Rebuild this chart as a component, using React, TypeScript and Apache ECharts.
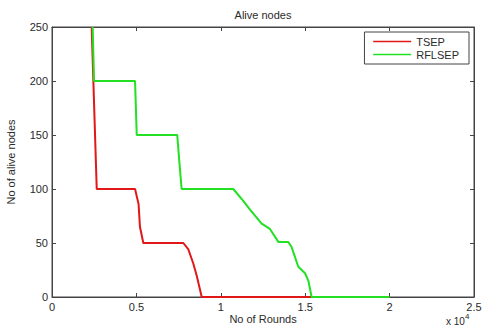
import React, { useEffect, useRef } from "react";
import * as echarts from "echarts";

const xTickLabels = ["0", "0.5", "1", "1.5", "2", "2.5"];
const yTickValues = [0, 50, 100, 150, 200, 250];

const tsepRounds = [2350, 2450, 2650, 4920, 5130, 5210, 5410, 7780, 8080, 8370, 8570, 8870, 20000];
const tsepAlive = [250, 200, 100, 100, 86, 65, 50, 50, 44, 31, 20, 0, 0];

const rflsepRounds = [2410, 2490, 4920, 5020, 7420, 7540, 7680, 10740, 11330, 11730, 12420, 12910, 13410, 14000, 14200, 14590, 14990, 15190, 15380, 20000];
const rflsepAlive = [250, 200, 200, 150, 150, 126, 100, 100, 89, 81, 68, 63, 51, 51, 46, 28, 22, 15, 0, 0];

const seriesNames = ["TSEP", "RFLSEP"];
const colors = ["#e01818", "#22e022"];

const FONT = "'Liberation Sans', Arial, sans-serif";
const TXT = "#2a2a2a";

export default function App() {
  const ref = useRef<HTMLDivElement>(null);
  useEffect(() => {
    if (!ref.current) return;
    const chart = echarts.init(ref.current, undefined, { renderer: "svg" });
    const axisCommon = {
      type: "value" as const,
      axisLine: { show: true, onZero: false, lineStyle: { color: "#444", width: 1 } },
      axisTick: { show: true, inside: true, length: 4, lineStyle: { color: "#444" } },
      splitLine: { show: false },
    };
    chart.setOption({
      animation: false,
      backgroundColor: "#fff",
      textStyle: { fontFamily: FONT },
      grid: {
        left: 52,
        right: 8,
        top: 27,
        bottom: 30,
        containLabel: false,
        outerBoundsMode: "none",
        show: true,
        borderColor: "#444",
        borderWidth: 1,
        backgroundColor: "#fff",
      },
      legend: {
        right: 13,
        top: 32,
        orient: "vertical",
        data: seriesNames,
        itemWidth: 38,
        itemHeight: 12,
        itemGap: 2,
        padding: [4, 10, 4, 8],
        borderColor: "#444",
        borderWidth: 1,
        backgroundColor: "#fff",
        itemStyle: { opacity: 0 },
        lineStyle: { width: 1.5 },
        textStyle: { fontSize: 11, color: TXT, fontFamily: FONT },
      },
      xAxis: [
        {
          ...axisCommon,
          position: "bottom",
          min: 0,
          max: 25000,
          interval: 5000,
          name: "No of Rounds",
          nameLocation: "middle",
          nameGap: 16,
          nameMoveOverlap: false,
          nameTextStyle: { fontSize: 11, color: TXT, fontFamily: FONT },
          axisLabel: {
            margin: 4,
            fontSize: 11,
            color: TXT,
            fontFamily: FONT,
            formatter: (v: number) => xTickLabels[Math.round(v / 5000)] ?? "",
          },
        },
        {
          ...axisCommon,
          position: "top",
          min: 0,
          max: 25000,
          interval: 5000,
          axisLabel: { show: false },
        },
      ],
      yAxis: [
        {
          ...axisCommon,
          position: "left",
          min: 0,
          max: 250,
          interval: 50,
          name: "No of alive nodes",
          nameLocation: "middle",
          nameGap: 36,
          nameTextStyle: { fontSize: 11, color: TXT, fontFamily: FONT },
          axisLabel: {
            margin: 4,
            fontSize: 11,
            color: TXT,
            fontFamily: FONT,
            formatter: (v: number) => (yTickValues.includes(v) ? String(v) : ""),
          },
        },
        {
          ...axisCommon,
          position: "right",
          min: 0,
          max: 250,
          interval: 50,
          axisLabel: { show: false },
        },
      ],
      graphic: [
        {
          type: "text",
          x: 263,
          y: 15,
          style: { text: "Alive nodes", font: `11px ${FONT}`, fill: TXT, textAlign: "center", textVerticalAlign: "middle" },
        },
        {
          type: "text",
          x: 446,
          y: 316,
          style: { text: "x 10", font: `10px ${FONT}`, fill: TXT, textAlign: "left", textVerticalAlign: "top" },
        },
        {
          type: "text",
          x: 465,
          y: 312,
          style: { text: "4", font: `8px ${FONT}`, fill: TXT, textAlign: "left", textVerticalAlign: "top" },
        },
      ],
      series: [
        {
          name: seriesNames[0],
          type: "line",
          xAxisIndex: 0,
          yAxisIndex: 0,
          symbol: "none",
          data: tsepRounds.map((r, i) => [r, tsepAlive[i]]),
          lineStyle: { color: colors[0], width: 2 },
          itemStyle: { color: colors[0] },
        },
        {
          name: seriesNames[1],
          type: "line",
          xAxisIndex: 0,
          yAxisIndex: 0,
          symbol: "none",
          data: rflsepRounds.map((r, i) => [r, rflsepAlive[i]]),
          lineStyle: { color: colors[1], width: 2 },
          itemStyle: { color: colors[1] },
        },
      ],
    });
    return () => chart.dispose();
  }, []);
  return <div ref={ref} style={{ width: 482, height: 327, position: "absolute", left: 0, top: 0 }} />;
}
